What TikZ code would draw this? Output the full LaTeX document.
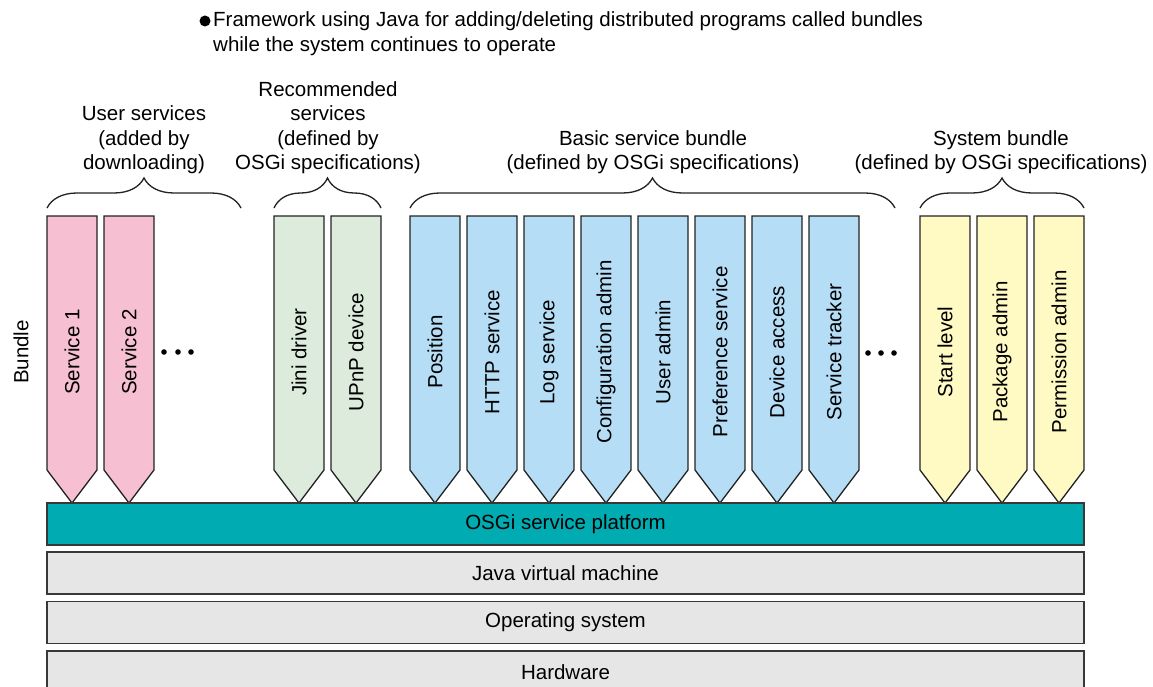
\documentclass[tikz,border=0pt]{standalone}
\usepackage{fontspec}
\setmainfont{Liberation Sans}
\usetikzlibrary{decorations.pathreplacing}
\definecolor{pinkb}{HTML}{F6BFD2}
\definecolor{greenb}{HTML}{DCEBDB}
\definecolor{blueb}{HTML}{B5DDF5}
\definecolor{yellowb}{HTML}{FFF9C3}
\definecolor{tealb}{HTML}{00ACB1}
\definecolor{grayb}{HTML}{E6E6E6}
\definecolor{edge}{HTML}{222222}
\newcommand\bundlebox[4]{%
  \draw[bundleline, fill=#3] (#1,216) -- (#1+50,216) -- (#1+50,470) -- (#1+25,503) -- (#1,470) -- cycle;
  \node[bundletext] (#2) at (#1+25,352) {#4};}
\begin{document}
\begin{tikzpicture}[x=1pt,y=-1pt,
  every node/.style={font=\fontsize{20.5}{24.5}\selectfont, text=black},
  bundleline/.style={draw=edge, line width=1.3pt, line join=miter},
  bundletext/.style={rotate=90, inner sep=0pt},
  layer/.style={draw=edge!90, line width=1.8pt, minimum width=1037pt, minimum height=42pt, inner sep=0pt},
  bracestyle/.style={draw=edge, line width=1.3pt, decorate, decoration={brace, amplitude=30pt}},
  label/.style={align=center, anchor=south, inner sep=0pt},
  dotst/.style={circle, fill=black, inner sep=0pt, minimum size=5.6pt}]
\path[use as bounding box, clip] (0,0) rectangle (1153,687);

% title
\node[dotst, minimum size=11pt] (bul) at (205,21) {};
\node[anchor=base west, inner sep=0pt] (t1) at (213,27) {Framework using Java for adding/deleting distributed programs called bundles};
\node[anchor=base west, inner sep=0pt] (t2) at (213,52) {while the system continues to operate};

% group labels
\node[label] (lu) at (144,174) {User services\\(added by\\downloading)};
\node[label] (lr) at (328,174) {Recommended\\services\\(defined by\\OSGi specifications)};
\node[label] (lb) at (653,174) {Basic service bundle\\(defined by OSGi specifications)};
\node[label] (ls) at (1001,174) {System bundle\\(defined by OSGi specifications)};

% braces
\draw[bracestyle] (47,208) -- (241,208);
\draw[bracestyle] (274,208) -- (381,208);
\draw[bracestyle] (410,208) -- (895,208);
\draw[bracestyle] (920,208) -- (1084,208);

% Bundle label
\node[rotate=90, inner sep=0pt] (bundle) at (21,352) {Bundle};

% bundles
\bundlebox{47}{s1}{pinkb}{Service 1}
\bundlebox{104}{s2}{pinkb}{Service 2}
\bundlebox{274}{jini}{greenb}{Jini driver}
\bundlebox{331}{upnp}{greenb}{UPnP device}
\bundlebox{410}{pos}{blueb}{Position}
\bundlebox{467}{http}{blueb}{HTTP service}
\bundlebox{524}{log}{blueb}{Log service}
\bundlebox{581}{conf}{blueb}{Configuration admin}
\bundlebox{638}{user}{blueb}{User admin}
\bundlebox{695}{pref}{blueb}{Preference service}
\bundlebox{752}{dev}{blueb}{Device access}
\bundlebox{809}{track}{blueb}{Service tracker}
\bundlebox{920}{start}{yellowb}{Start level}
\bundlebox{977}{pack}{yellowb}{Package admin}
\bundlebox{1034}{perm}{yellowb}{Permission admin}

% dots
\node[dotst] (da1) at (164,352) {};
\node[dotst] (da2) at (178,352) {};
\node[dotst] (da3) at (191,352) {};
\node[dotst] (db1) at (868,353) {};
\node[dotst] (db2) at (881,353) {};
\node[dotst] (db3) at (894,353) {};

% layers
\node[layer, fill=tealb] (osgi) at (565.5,524) {OSGi service platform};
\node[layer, fill=grayb] (jvm) at (565.5,573) {Java virtual machine};
\node[layer, fill=grayb] (os) at (565.5,622.5) {Operating system};
\node[layer, fill=grayb] (hw) at (565.5,672) {Hardware};
\end{tikzpicture}
\end{document}
